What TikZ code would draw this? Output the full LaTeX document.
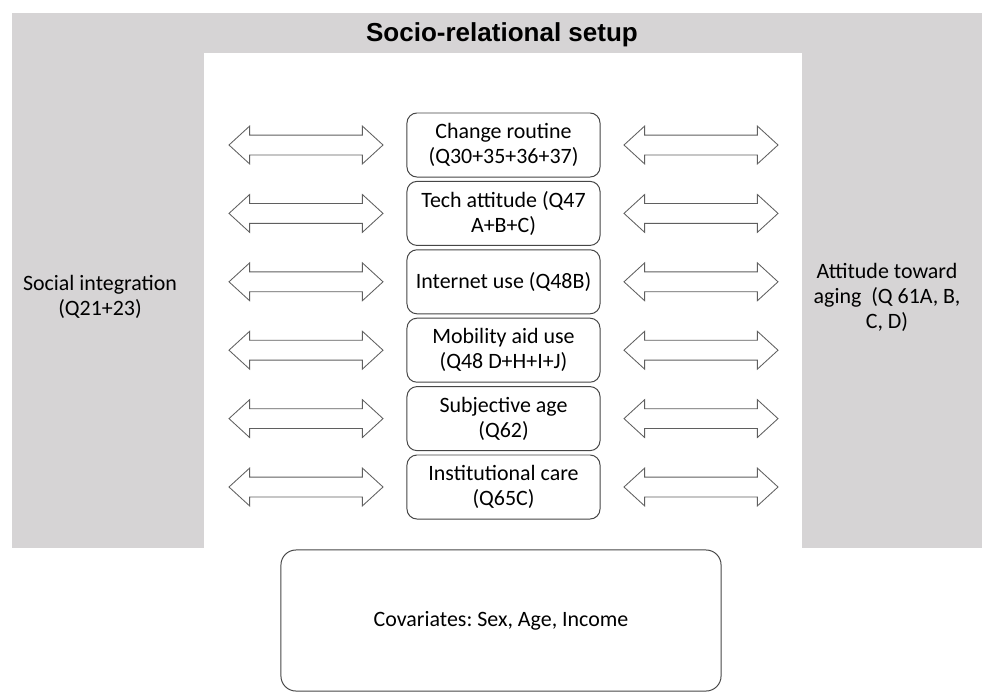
\documentclass[tikz,border=0pt]{standalone}
\usepackage{fontspec}
\setmainfont{Carlito}
\newfontfamily\titlefont{Liberation Sans}
\usetikzlibrary{shapes.arrows}
\definecolor{panelGray}{RGB}{214,212,213}
\definecolor{lineGray}{RGB}{70,70,70}
\definecolor{arrowGray}{RGB}{95,95,95}
\frenchspacing

\begin{document}
\begin{tikzpicture}
[x=0.025cm,y=-0.025cm,
  boxDecorate/.style={shape=rectangle,rounded corners=0.25cm,draw=lineGray,line width=0.7pt,%
    minimum width=4.825cm,minimum height=1.6cm,align=center,inner sep=0pt,%
    font=\fontsize{15.6}{17.8}\selectfont},%
  arrowDecorate/.style={shape=double arrow,draw=arrowGray,line width=0.6pt,fill=white,%
    minimum height=3.85cm,inner xsep=0pt,inner ysep=0.2375cm,double arrow head extend=0.225cm,%
    double arrow tip angle=85},%
  labelDecorate/.style={align=center,font=\fontsize{15.6}{17.8}\selectfont}]
\useasboundingbox (0,0) rectangle (982,693);
%% panels
\fill[panelGray] (12,13) rectangle (982,548);
\fill[white] (204,53) rectangle (802,548);
\node (title) at (502,35) [font=\titlefont\bfseries\fontsize{18.5}{20}\selectfont] {Socio-relational setup};
%% side labels
\node (socint) at (100,297) [labelDecorate] {Social integration\\(Q21+23)};
\node (attaging) at (887,297) [labelDecorate] {Attitude toward\\aging\ \ (Q 61A, B,\\C, D)};
%% mediator boxes
\foreach \nodename/\y/\txt in {
  routine/145/{Change routine\\(Q30+35+36+37)},
  tech/213.4/{Tech attitude (Q47\\A+B+C)},
  internet/281.8/{Internet use (Q48B)},
  mobility/350.2/{Mobility aid use\\(Q48 D+H+I+J)},
  subjage/418.6/{Subjective age\\(Q62)},
  instcare/487/{Institutional care\\(Q65C)}}
{
  \node (\nodename) at (503.5,\y) [boxDecorate] {\txt};
}
%% double arrows
\foreach \nodename/\y in {
  routine/145, tech/213.4, internet/281.8, mobility/350.2, subjage/418.6, instcare/487}
{
  \node (left\nodename) at (306,\y) [arrowDecorate] {};
  \node (right\nodename) at (701,\y) [arrowDecorate] {};
}
%% covariates
\node (covariates) at (501,620.5) [boxDecorate,rounded corners=0.375cm,minimum width=11cm,%
  minimum height=3.525cm] {Covariates: Sex, Age, Income};
\end{tikzpicture}
\end{document}
